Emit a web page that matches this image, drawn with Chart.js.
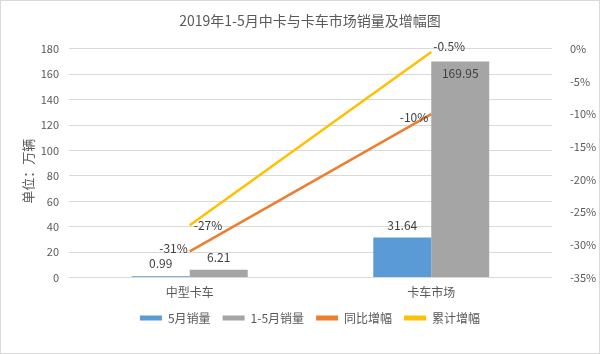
<!DOCTYPE html>
<html>
<head>
<meta charset="utf-8">
<script src="https://cdn.jsdelivr.net/npm/chart.js@4/dist/chart.umd.min.js"></script>
<style>
  html, body { margin: 0; padding: 0; background: #fff; }
  #wrap { width: 600px; height: 354px; position: relative; box-sizing: border-box; border: 1px solid #d9d9d9; }
</style>
</head>
<body>
<div id="wrap"><canvas id="chart1"></canvas></div>
<script>
// data
var categories = ["中型卡车", "卡车市场"];
var salesMay = [0.99, 31.64];
var salesJanMay = [6.21, 169.95];
var growthYoY = [-31, -10];
var growthCum = [-27, -0.5];
var leftTicks = [0, 20, 40, 60, 80, 100, 120, 140, 160, 180];
var rightTicks = [0, -5, -10, -15, -20, -25, -30, -35];
var unitTitle = "单位：万辆";

var textColor = "#595959";
var fontFamily = "'Noto Sans CJK SC', 'Noto Sans', sans-serif";

// label drawing (no datalabels plugin available offline)
var valueLabels = {
  id: "valueLabels",
  afterDatasetsDraw: function (chart) {
    var ctx = chart.ctx;
    ctx.save();
    ctx.font = "12px " + fontFamily;
    ctx.fillStyle = "#404040";
    ctx.textBaseline = "middle";
    chart.data.datasets.forEach(function (ds, i) {
      var meta = chart.getDatasetMeta(i);
      meta.data.forEach(function (el, j) {
        var off = ds.labelOffsets[j];
        var txt = ds.labelFormat(ds.data[j]);
        ctx.textAlign = off[2] || "center";
        ctx.fillText(txt, el.x + off[0], el.y + off[1]);
      });
    });
    ctx.restore();
  },
};

// vertical unit title, a little below the middle of the plot like the original
var unitLabel = {
  id: "unitLabel",
  afterDraw: function (chart) {
    var ctx = chart.ctx;
    var area = chart.chartArea;
    ctx.save();
    ctx.translate(27, (area.top + area.bottom) / 2 + 8);
    ctx.rotate(-Math.PI / 2);
    ctx.font = "13px " + fontFamily;
    ctx.fillStyle = textColor;
    ctx.textAlign = "center";
    ctx.textBaseline = "middle";
    ctx.fillText(unitTitle, 0, 0);
    ctx.restore();
  },
};

const ctx = document.getElementById("chart1");

var myChart = new Chart(ctx, {
  type: "bar",
  data: {
    labels: categories,
    datasets: [
      {
        label: "5月销量",
        data: salesMay,
        yAxisID: "y",
        backgroundColor: "#5B9BD5",
        order: 2,
        categoryPercentage: 0.48,
        barPercentage: 1,
        labelFormat: (v) => v.toFixed(2),
        labelOffsets: [[0, -13], [0, -12]],
      },
      {
        label: "1-5月销量",
        data: salesJanMay,
        yAxisID: "y",
        backgroundColor: "#A5A5A5",
        order: 3,
        categoryPercentage: 0.48,
        barPercentage: 1,
        labelFormat: (v) => v.toFixed(2),
        labelOffsets: [[0, -12], [0, 12]],
      },
      {
        type: "line",
        label: "同比增幅",
        data: growthYoY,
        yAxisID: "y2",
        borderColor: "#ED7D31",
        backgroundColor: "#ED7D31",
        borderWidth: 2.5,
        pointRadius: 0,
        order: 1,
        labelFormat: (v) => v + "%",
        labelOffsets: [[-2, -3, "right"], [-3, 3, "right"]],
      },
      {
        type: "line",
        label: "累计增幅",
        data: growthCum,
        yAxisID: "y2",
        borderColor: "#FFC000",
        backgroundColor: "#FFC000",
        borderWidth: 2.5,
        pointRadius: 0,
        order: 0,
        labelFormat: (v) => v + "%",
        labelOffsets: [[4, 0, "left"], [2, -6, "left"]],
      },
    ],
  },
  options: {
    responsive: true,
    maintainAspectRatio: false,
    animation: false,
    events: [],
    layout: { padding: { left: 20, right: 0, top: 0, bottom: 19 } },
    plugins: {
      title: {
        display: true,
        text: "2019年1-5月中卡与卡车市场销量及增幅图",
        color: textColor,
        font: { family: fontFamily, size: 14, weight: "normal" },
        padding: { top: 11, bottom: 20 },
      },
      legend: {
        position: "bottom",
        labels: {
          color: textColor,
          font: { family: fontFamily, size: 12 },
          boxWidth: 22,
          boxHeight: 5,
          padding: 12,
          sort: function (a, b) {
            return a.datasetIndex - b.datasetIndex;
          },
          generateLabels: function (chart) {
            var items = Chart.defaults.plugins.legend.labels.generateLabels(chart);
            items.forEach(function (it) {
              it.lineWidth = 0;
              it.fillStyle = chart.data.datasets[it.datasetIndex].backgroundColor;
            });
            return items;
          },
        },
      },
      tooltip: { enabled: false },
    },
    scales: {
      x: {
        grid: { display: false },
        border: { display: false },
        ticks: { color: textColor, font: { family: fontFamily, size: 12 }, padding: 0 },
      },
      y: {
        position: "left",
        min: 0,
        max: 180,
        afterBuildTicks: function (axis) {
          axis.ticks = leftTicks.map((v) => ({ value: v }));
        },
        afterFit: function (axis) {
          axis.width = 48;
        },
        grid: { color: "#D9D9D9", drawTicks: false },
        border: { display: false },
        ticks: { color: textColor, font: { family: fontFamily, size: 11 }, padding: 10 },
      },
      y2: {
        position: "right",
        min: -35,
        max: 0,
        afterBuildTicks: function (axis) {
          axis.ticks = rightTicks.map((v) => ({ value: v }));
        },
        afterFit: function (axis) {
          axis.width = 47;
        },
        grid: { display: false },
        border: { display: false },
        ticks: {
          color: textColor,
          font: { family: fontFamily, size: 11 },
          padding: 10,
          callback: function (value) {
            return value + "%";
          },
        },
      },
    },
  },
  plugins: [valueLabels, unitLabel],
});
</script>
</body>
</html>
